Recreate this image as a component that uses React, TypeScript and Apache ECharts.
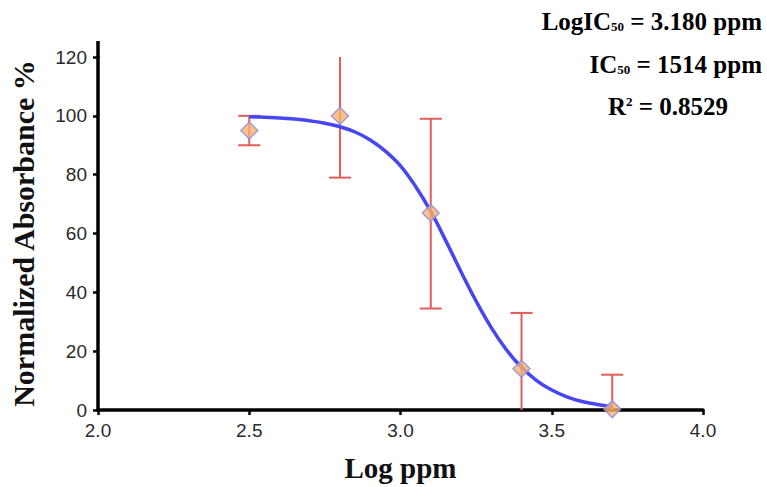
import React, { useEffect, useRef } from "react";
import * as echarts from "echarts";

const doseX = [2.5, 2.8, 3.1, 3.4, 3.7];
const meanY = [95, 100, 67, 14, 0.3];
const errLow = [90, 79, 34.5, -6, -12];
const errHigh = [100, 120.5, 99, 33, 12];

const fitX = [2.5, 2.55, 2.6, 2.65, 2.7, 2.75, 2.8, 2.85, 2.9, 2.95, 3.0, 3.05, 3.1, 3.15, 3.2, 3.25, 3.3, 3.35, 3.4, 3.45, 3.5, 3.55, 3.6, 3.65, 3.7];
const fitY = [99.7, 99.5, 99.3, 98.9, 98.3, 97.5, 96.3, 94.5, 91.8, 88, 83, 76, 67.5, 57.5, 47, 37, 28, 20.5, 14.5, 10, 6.8, 4.5, 2.9, 1.9, 1.2];

const xTicks = { min: 2.0, max: 4.0, interval: 0.5 };
const yTicks = { min: 0, max: 120, interval: 20 };

const GRID = { left: 98, right: 64, top: 57, bottom: 68 };

export default function App() {
  const ref = useRef<HTMLDivElement>(null);
  useEffect(() => {
    if (!ref.current) return;
    const chart = echarts.init(ref.current, undefined, { renderer: "svg" });
    const serif = "Liberation Serif";
    const rich = {
      b: { fontFamily: serif, fontWeight: "bold", fontSize: 25, color: "#222" },
      s: { fontFamily: serif, fontWeight: "bold", fontSize: 13, color: "#555", padding: [10, 0, 0, 0] },
      p: { fontFamily: serif, fontWeight: "bold", fontSize: 13, color: "#222", padding: [0, 0, 10, 0] },
    };
    chart.setOption({
      animation: false,
      backgroundColor: "#fff",
      grid: GRID,
      xAxis: {
        type: "value",
        min: xTicks.min,
        max: xTicks.max,
        interval: xTicks.interval,
        name: "Log ppm",
        nameLocation: "middle",
        nameGap: 43,
        nameTextStyle: { fontFamily: serif, fontWeight: "bold", fontSize: 29, color: "#111" },
        splitLine: { show: false },
        axisLine: { onZero: false, lineStyle: { color: "#000", width: 3.5 } },
        axisTick: { show: true, length: 5, lineStyle: { color: "#000", width: 2.5 } },
        axisLabel: {
          margin: 11,
          fontFamily: "Liberation Sans",
          fontSize: 19,
          color: "#2a2a2a",
          formatter: (v: number) => v.toFixed(1),
        },
      },
      yAxis: {
        type: "value",
        min: yTicks.min,
        max: yTicks.max,
        interval: yTicks.interval,
        name: "Normalized Absorbance %",
        nameLocation: "middle",
        nameRotate: 90,
        nameGap: 60,
        nameTextStyle: { fontFamily: serif, fontWeight: "bold", fontSize: 30, color: "#111" },
        splitLine: { show: false },
        axisLine: { lineStyle: { color: "#000", width: 3.5 } },
        axisTick: { show: true, length: 5, lineStyle: { color: "#000", width: 2.5 } },
        axisLabel: { margin: 11, fontFamily: "Liberation Sans", fontSize: 19, color: "#2a2a2a" },
      },
      graphic: [
        {
          type: "line",
          shape: { x1: GRID.left, y1: GRID.top + 1, x2: GRID.left, y2: 41 },
          style: { stroke: "#000", lineWidth: 3.5 },
        },
        {
          type: "text",
          right: 5,
          top: 9,
          style: { text: "{b|LogIC}{s|50}{b| = 3.180 ppm}", rich, align: "right" },
        },
        {
          type: "text",
          right: 5,
          top: 52,
          style: { text: "{b|IC}{s|50}{b| = 1514 ppm}", rich, align: "right" },
        },
        {
          type: "text",
          right: 39,
          top: 94,
          style: { text: "{b|R}{p|2}{b| = 0.8529}", rich, align: "right" },
        },
      ],
      series: [
        {
          type: "custom",
          z: 1,
          clip: true,
          data: doseX.map((x, i) => [x, errLow[i], errHigh[i]]),
          renderItem: (params: any, api: any) => {
            const x = api.value(0);
            const lo = api.coord([x, api.value(1)]);
            const hi = api.coord([x, api.value(2)]);
            const cap = 11;
            const style = { stroke: "#e35b5b", lineWidth: 2 };
            return {
              type: "group",
              children: [
                { type: "line", shape: { x1: hi[0], y1: hi[1], x2: lo[0], y2: lo[1] }, style },
                { type: "line", shape: { x1: hi[0] - cap, y1: hi[1], x2: hi[0] + cap, y2: hi[1] }, style },
                { type: "line", shape: { x1: lo[0] - cap, y1: lo[1], x2: lo[0] + cap, y2: lo[1] }, style },
              ],
            };
          },
        },
        {
          type: "line",
          z: 2,
          smooth: 0.4,
          showSymbol: false,
          data: fitX.map((x, i) => [x, fitY[i]]),
          lineStyle: { color: "#4646f2", width: 3.5 },
        },
        {
          type: "scatter",
          z: 3,
          symbol: "diamond",
          symbolSize: 17,
          data: doseX.map((x, i) => [x, meanY[i]]),
          itemStyle: { color: "#f6b36c", borderColor: "#8c8ce6", borderWidth: 1.5 },
        },
      ],
    });
    return () => chart.dispose();
  }, []);
  return (
    <div
      ref={ref}
      style={{ position: "fixed", left: 0, top: 0, width: 767, height: 487 }}
    />
  );
}
